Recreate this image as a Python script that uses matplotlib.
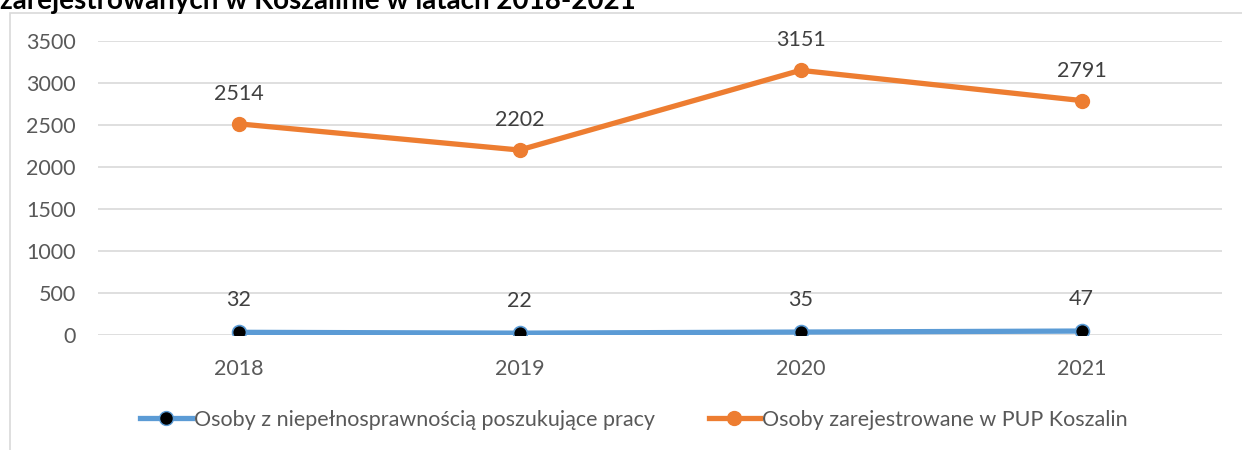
import matplotlib.pyplot as plt
from matplotlib.patches import Rectangle
from matplotlib.lines import Line2D

years = ["2018", "2019", "2020", "2021"]
disabled = [32, 22, 35, 47]
registered = [2514, 2202, 3151, 2791]
label_disabled = "Osoby z niepełnosprawnością poszukujące pracy"
label_registered = "Osoby zarejestrowane w PUP Koszalin"
title = "zarejestrowanych w Koszalinie w latach 2018-2021"

BLUE = "#5B9BD5"
ORANGE = "#ED7D31"
GRID = "#D9D9D9"
TEXT = "#595959"
FS = 15.5

plt.rcParams['font.family'] = ['Lato', 'DejaVu Sans']

W, H = 1242, 450
fig = plt.figure(figsize=(W / 100, H / 100), dpi=100)

# chart border (cut off at right and bottom)
fig.patches.append(Rectangle((10 / W, -0.1), 1.2, 1 - 13 / H + 0.1, transform=fig.transFigure,
                             fill=False, edgecolor=GRID, linewidth=1.2))
fig.text(0, 1 - 9 / H, title, fontsize=20, fontweight='bold', color='black',
         ha='left', va='baseline')

ax = fig.add_axes([98 / W, 1 - 335 / H, 1124 / W, 294 / H])
x = range(len(years))

ax.plot(x, disabled, color=BLUE, linewidth=3.8, marker='o', markersize=10,
        markerfacecolor='black', markeredgecolor=BLUE, markeredgewidth=1.2, zorder=3)
ax.plot(x, registered, color=ORANGE, linewidth=3.8, marker='o', markersize=10,
        markerfacecolor=ORANGE, markeredgecolor=ORANGE, zorder=3)

for xi, v in zip(x, disabled):
    ax.annotate(str(v), (xi, v), xytext=(0, 23), textcoords='offset points',
                ha='center', va='center', fontsize=FS, color='#404040')
for xi, v in zip(x, registered):
    ax.annotate(str(v), (xi, v), xytext=(0, 21.5), textcoords='offset points',
                ha='center', va='center', fontsize=FS, color='#404040')

ax.set_xlim(-0.5, 3.5)
ax.set_ylim(0, 3500)
ax.set_yticks(range(0, 3501, 500))
ax.set_xticks(list(x))
ax.set_xticklabels(years)
ax.yaxis.grid(True, color=GRID, linewidth=1.2)
ax.set_axisbelow(True)
for s in ax.spines.values():
    s.set_visible(False)
ax.tick_params(length=0, labelsize=FS, labelcolor=TEXT)
ax.tick_params(axis='y', pad=16)
ax.tick_params(axis='x', pad=17)

handles = [
    Line2D([], [], color=BLUE, linewidth=3.8, marker='o', markersize=10,
           markerfacecolor='black', markeredgecolor=BLUE),
    Line2D([], [], color=ORANGE, linewidth=3.8, marker='o', markersize=10,
           markerfacecolor=ORANGE, markeredgecolor=ORANGE),
]
fig.legend(handles, [label_disabled, label_registered], loc='center',
           bbox_to_anchor=(634 / W, 1 - 420 / H), ncol=2, frameon=False,
           fontsize=FS, labelcolor=TEXT, handlelength=2.4, handletextpad=0.1,
           columnspacing=2.5)

fig.savefig("out.png", dpi=100)
